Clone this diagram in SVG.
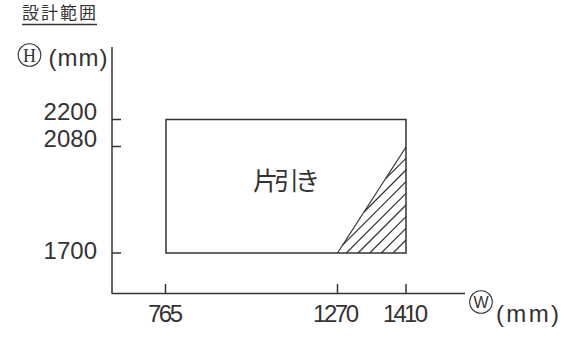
<svg xmlns="http://www.w3.org/2000/svg" width="572" height="338" viewBox="0 0 572 338">
<style>
.ln{stroke:#333;stroke-width:1.5;fill:none}
.hl{stroke:#333;stroke-width:1.2;fill:none}
.c{stroke:#333;stroke-width:1.1;fill:none}
.t{font-family:"Liberation Sans","Noto Sans CJK JP",sans-serif;font-size:24px;fill:#333}
.j{font-family:"Noto Sans CJK JP",sans-serif;fill:#333}
</style>
<rect width="572" height="338" fill="#fff"/>
<g id="title">
<text class="j" x="22" y="19" font-size="17" textLength="74">設計範囲</text>
<line class="ln" x1="22" y1="24.5" x2="97" y2="24.5"/>
</g>
<g id="axes">
<line class="ln" x1="112" y1="47" x2="112" y2="294"/>
<line class="ln" x1="112" y1="293.5" x2="465" y2="293.5"/>
<line class="ln" x1="112" y1="119.5" x2="121" y2="119.5"/>
<line class="ln" x1="112" y1="146.5" x2="121" y2="146.5"/>
<line class="ln" x1="112" y1="253" x2="121" y2="253"/>
<line class="ln" x1="165.5" y1="284" x2="165.5" y2="293.5"/>
<line class="ln" x1="337.5" y1="284" x2="337.5" y2="293.5"/>
<line class="ln" x1="406" y1="284" x2="406" y2="293.5"/>
</g>
<g id="labels">
<circle class="c" cx="29.5" cy="55" r="11.3"/>
<text x="29.5" y="61.5" font-family="Liberation Serif,serif" font-size="18" fill="#333" text-anchor="middle">H</text>
<text class="t" x="48.5" y="66" font-size="26" textLength="59">(mm)</text>
<text class="t" x="97" y="119.5" text-anchor="end">2200</text>
<text class="t" x="97" y="146.5" text-anchor="end">2080</text>
<text class="t" x="97" y="258.5" text-anchor="end">1700</text>
<text class="t" x="148" y="322" textLength="35">765</text>
<text class="t" x="313" y="322" textLength="46">1270</text>
<text class="t" x="383" y="322" textLength="45">1410</text>
<circle class="c" cx="481" cy="302" r="11.3"/>
<text x="481" y="308" font-family="Liberation Sans,sans-serif" font-size="16" fill="#333" text-anchor="middle">W</text>
<text class="t" x="496" y="322" textLength="63">(mm)</text>
</g>
<g id="range">
<rect class="ln" x="166" y="119.5" width="240" height="133.5"/>
<text class="j" x="253" y="190" font-size="25" textLength="67">片引き</text>
</g>
<g id="hatch">
<line class="hl" x1="337.5" y1="253" x2="406" y2="147"/>
<line class="hl" x1="406" y1="158.3" x2="385.4" y2="178.9"/>
<line class="hl" x1="406" y1="170" x2="364" y2="212"/>
<line class="hl" x1="406" y1="181.7" x2="342.6" y2="245.1"/>
<line class="hl" x1="406" y1="193.3" x2="346.3" y2="253"/>
<line class="hl" x1="406" y1="205" x2="358" y2="253"/>
<line class="hl" x1="406" y1="216.7" x2="369.7" y2="253"/>
<line class="hl" x1="406" y1="228.3" x2="381.3" y2="253"/>
<line class="hl" x1="406" y1="240" x2="393" y2="253"/>
</g>
</svg>
